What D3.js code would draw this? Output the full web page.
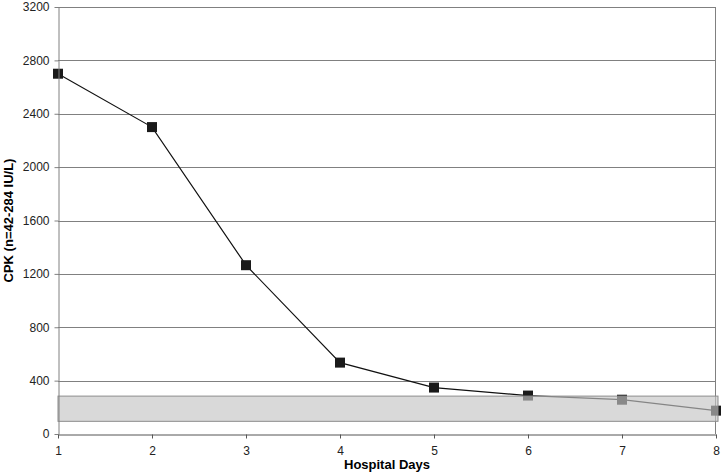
<!DOCTYPE html>
<html>
<head>
<meta charset="utf-8">
<script src="https://cdn.jsdelivr.net/npm/d3@7"></script>
<style>
  body { margin: 0; background: #fff; }
  svg { display: block; font-family: "Liberation Sans", Arial, sans-serif; }
</style>
</head>
<body>
<script>
"use strict";

// chart values
const days = [1, 2, 3, 4, 5, 6, 7, 8];
const cpk = [2700, 2300, 1265, 535, 348, 288, 257, 175];
const yTicks = [0, 400, 800, 1200, 1600, 2000, 2400, 2800, 3200];
const refBand = [95, 284];

const width = 721, height = 474;
const margin = { top: 7, right: 5, bottom: 40, left: 58 };

const svg = d3.select("body").append("svg")
  .attr("width", width).attr("height", height);

const x = d3.scaleLinear().domain([1, 8]).range([margin.left, width - margin.right]);
const y = d3.scaleLinear().domain([0, 3200]).range([height - margin.bottom, margin.top]);

// gridlines
svg.append("g")
  .selectAll("line")
  .data(yTicks.filter(d => d > 0))
  .join("line")
  .attr("x1", x(1)).attr("x2", x(8))
  .attr("y1", d => Math.round(y(d)) + 0.5).attr("y2", d => Math.round(y(d)) + 0.5)
  .attr("stroke", "#808080").attr("stroke-width", 1);

// right edge
svg.append("line")
  .attr("x1", Math.round(x(8)) - 0.5).attr("x2", Math.round(x(8)) - 0.5)
  .attr("y1", y(3200)).attr("y2", y(0))
  .attr("stroke", "#808080");

// line + markers
const data = days.map((d, i) => ({ day: d, v: cpk[i] }));
svg.append("path")
  .datum(data)
  .attr("fill", "none")
  .attr("stroke", "#111")
  .attr("stroke-width", 1.2)
  .attr("d", d3.line().x(d => x(d.day)).y(d => y(d.v)));

svg.append("g")
  .selectAll("rect")
  .data(data)
  .join("rect")
  .attr("x", d => x(d.day) - 5).attr("y", d => y(d.v) - 5)
  .attr("width", 10).attr("height", 10)
  .attr("fill", "#1a1a1a");

// reference range band (semi-transparent, over the line)
svg.append("rect")
  .attr("x", x(1)).attr("y", y(refBand[1]))
  .attr("width", x(8) - x(1) + 2)
  .attr("height", y(refBand[0]) - y(refBand[1]))
  .attr("fill", "rgb(197,197,197)")
  .attr("fill-opacity", 0.65)
  .attr("stroke", "#8c8c8c")
  .attr("stroke-width", 1);

// axes
const yAxis = svg.append("g")
  .attr("transform", `translate(${margin.left + 0.5},0)`)
  .call(d3.axisLeft(y).tickValues(yTicks).tickFormat(d3.format("d")).tickSize(4).tickSizeOuter(0).tickPadding(5));
yAxis.select(".domain").attr("stroke", "#808080");
yAxis.selectAll(".tick line").attr("stroke", "#808080");
yAxis.selectAll("text").attr("font-size", 12).attr("fill", "#222")
  .attr("font-family", "Liberation Sans, Arial, sans-serif");

const xAxis = svg.append("g")
  .attr("transform", `translate(0,${Math.round(y(0)) + 0.5})`)
  .call(d3.axisBottom(x).tickValues(days).tickFormat(d3.format("d")).tickSize(4).tickSizeOuter(0).tickPadding(8));
xAxis.select(".domain").attr("stroke", "#555");
xAxis.selectAll(".tick line").attr("stroke", "#555");
xAxis.selectAll("text").attr("font-size", 12).attr("fill", "#222")
  .attr("font-family", "Liberation Sans, Arial, sans-serif");

// titles
svg.append("text")
  .attr("x", (x(1) + x(8)) / 2).attr("y", 469)
  .attr("text-anchor", "middle")
  .attr("font-size", 13).attr("font-weight", "bold")
  .text("Hospital Days");

svg.append("text")
  .attr("transform", `translate(13,${(y(0) + y(3200)) / 2}) rotate(-90)`)
  .attr("text-anchor", "middle")
  .attr("font-size", 13).attr("font-weight", "bold")
  .text("CPK (n=42-284 IU/L)");
</script>
</body>
</html>
